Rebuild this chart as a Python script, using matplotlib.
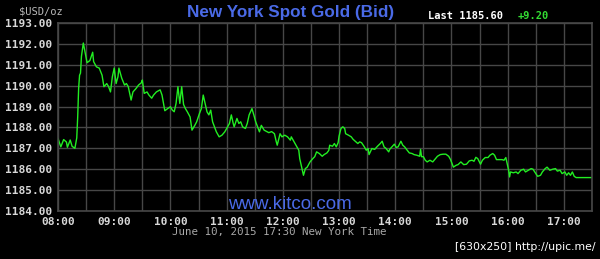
import matplotlib
matplotlib.use("Agg")
import matplotlib.pyplot as plt
import numpy as np

# minutes after 08:00 (New York time) and bid price in USD/oz
minutes = [
    0, 3, 6, 9, 10, 13, 15, 18, 20, 21, 22, 23, 24, 25, 27, 29, 31, 34, 37, 38,
    41, 44, 47, 49, 52, 54, 56, 58, 60, 62, 64, 65, 68, 71, 73, 75, 78, 80, 83, 86,
    89, 90, 92, 95, 97, 100, 102, 105, 109, 111, 114, 117, 120, 122, 124, 126, 128, 130, 132, 134,
    136, 138, 141, 143, 146, 148, 151, 153, 155, 157, 159, 161, 163, 165, 167, 169, 172, 175, 178, 180,
    183, 185, 187, 188, 191, 193, 195, 197, 200, 202, 204, 207, 209, 211, 213, 215, 217, 220, 225, 228,
    231, 233, 234, 237, 239, 242, 245, 248, 249, 252, 255, 257, 258, 260, 262, 264, 266, 269, 272, 274,
    276, 279, 282, 284, 287, 289, 290, 293, 295, 297, 299, 300, 302, 304, 306, 307, 310, 313, 315, 318,
    320, 322, 324, 327, 329, 331, 332, 335, 338, 341, 344, 346, 348, 350, 353, 354, 357, 359, 361, 363,
    366, 368, 370, 372, 375, 378, 380, 383, 386, 387, 388, 390, 392, 394, 397, 400, 402, 405, 408, 411,
    414, 417, 419, 422, 425, 427, 430, 433, 436, 439, 442, 444, 446, 448, 451, 453, 456, 459, 461, 464,
    466, 468, 471, 474, 476, 478, 479, 481, 482, 483, 486, 489, 491, 494, 497, 499, 502, 505, 507, 510,
    512, 515, 517, 520, 522, 525, 528, 531, 533, 536, 538, 541, 543, 545, 547, 549, 551, 553, 570,
]
prices = [
    1187.47, 1187.07, 1187.42, 1187.30, 1187.05, 1187.40, 1187.10, 1187.00, 1187.50, 1188.50,
    1189.87, 1190.50, 1190.60, 1191.40, 1192.04, 1191.56, 1191.10, 1191.20, 1191.60, 1191.15,
    1190.90, 1190.84, 1190.50, 1189.95, 1190.10, 1189.95, 1189.70, 1190.43, 1190.84, 1190.10,
    1190.43, 1190.84, 1190.36, 1190.03, 1190.10, 1189.95, 1189.31, 1189.70, 1189.85, 1190.03,
    1190.14, 1190.27, 1189.63, 1189.70, 1189.55, 1189.40, 1189.55, 1189.70, 1189.80, 1189.55,
    1188.80, 1188.90, 1188.99, 1188.83, 1188.75, 1189.15, 1189.95, 1189.15, 1189.95, 1189.10,
    1188.90, 1188.75, 1188.50, 1187.87, 1188.10, 1188.27, 1188.67, 1188.90, 1189.55, 1189.15,
    1188.75, 1188.60, 1188.83, 1188.27, 1188.03, 1187.79, 1187.55, 1187.63, 1187.79, 1187.95,
    1188.19, 1188.60, 1188.19, 1188.03, 1188.43, 1188.19, 1188.27, 1188.03, 1187.95, 1188.19,
    1188.60, 1188.90, 1188.60, 1188.27, 1188.03, 1187.79, 1188.10, 1187.87, 1187.75, 1187.80,
    1187.70, 1187.31, 1187.15, 1187.70, 1187.55, 1187.63, 1187.55, 1187.39, 1187.55, 1187.31,
    1187.07, 1186.91, 1186.51, 1186.10, 1185.71, 1186.03, 1186.10, 1186.35, 1186.51, 1186.60,
    1186.83, 1186.75, 1186.62, 1186.70, 1186.78, 1186.90, 1187.15, 1187.10, 1187.23, 1187.07,
    1187.27, 1187.58, 1187.95, 1188.03, 1187.95, 1187.70, 1187.63, 1187.55, 1187.43, 1187.31,
    1187.23, 1187.31, 1187.27, 1187.07, 1186.91, 1186.99, 1186.70, 1186.99, 1186.95, 1187.10,
    1187.23, 1187.34, 1187.07, 1187.00, 1186.83, 1186.95, 1187.10, 1187.20, 1187.04, 1187.07,
    1187.34, 1187.15, 1187.07, 1186.95, 1186.78, 1186.75, 1186.70, 1186.67, 1186.62, 1186.95,
    1186.60, 1186.60, 1186.43, 1186.35, 1186.43, 1186.35, 1186.46, 1186.62, 1186.70, 1186.72,
    1186.72, 1186.62, 1186.46, 1186.10, 1186.19, 1186.22, 1186.35, 1186.22, 1186.24, 1186.40,
    1186.43, 1186.38, 1186.57, 1186.51, 1186.24, 1186.43, 1186.56, 1186.56, 1186.67, 1186.75,
    1186.67, 1186.46, 1186.46, 1186.46, 1186.43, 1186.56, 1186.35, 1185.95, 1185.63, 1185.87,
    1185.83, 1185.87, 1185.79, 1185.95, 1186.00, 1185.87, 1185.95, 1186.03, 1186.00, 1185.79,
    1185.66, 1185.71, 1185.87, 1186.03, 1186.10, 1185.95, 1186.00, 1186.03, 1185.91, 1185.95,
    1185.79, 1185.87, 1185.71, 1185.83, 1185.71, 1185.87, 1185.66, 1185.60, 1185.60,
]

y_ticks = [1184, 1185, 1186, 1187, 1188, 1189, 1190, 1191, 1192, 1193]
hour_labels = ["08:00", "09:00", "10:00", "11:00", "12:00",
               "13:00", "14:00", "15:00", "16:00", "17:00"]
last_price = "1185.60"
change = "+9.20"

mono = "DejaVu Sans Mono"
grid_col = "#474747"
label_col = "#d8d8d8"
blue = "#4a6ae6"

fig = plt.figure(figsize=(6.0, 2.59), dpi=100, facecolor="black")
ax = fig.add_axes([0.0967, 0.1853, 0.89, 0.726], facecolor="black")

ax.plot(minutes, prices, color="#22ee22", linewidth=1.0)

ax.set_xlim(0, 570)
ax.set_ylim(y_ticks[0], y_ticks[-1])
ax.set_yticks(y_ticks)
ax.set_yticklabels([f"{v:.2f}" for v in y_ticks])
ax.set_xticks(np.arange(len(hour_labels)) * 60)
ax.set_xticklabels(hour_labels)
ax.set_xticks(np.arange(0, 571, 30), minor=True)
ax.grid(True, which="both", color=grid_col, linewidth=1.0)
ax.set_axisbelow(True)
ax.tick_params(which="both", length=0)
ax.tick_params(axis="x", pad=4.5)
ax.tick_params(axis="y", pad=4)
for lab in ax.get_xticklabels() + ax.get_yticklabels():
    lab.set_fontfamily(mono)
    lab.set_fontweight("bold")
    lab.set_fontsize(8)
    lab.set_color(label_col)
for spine in ax.spines.values():
    spine.set_color(grid_col)
    spine.set_linewidth(1.2)

fig.text(0.032, 0.955, "$USD/oz", family=mono, fontsize=7.5, color="#b8b8b8",
         ha="left", va="center")
fig.text(0.485, 0.952, "New York Spot Gold (Bid)", family="Liberation Sans",
         fontweight="bold", fontsize=12.3, color=blue, ha="center", va="center")
fig.text(0.714, 0.94, f"Last {last_price}", family=mono, fontweight="bold",
         fontsize=7.5, color="white", ha="left", va="center")
fig.text(0.863, 0.94, change, family=mono, fontweight="bold",
         fontsize=7.5, color="#33dd33", ha="left", va="center")
fig.text(0.484, 0.212, "www.kitco.com", family="Liberation Sans",
         fontsize=13.5, color=blue, ha="center", va="center", zorder=5)
fig.text(0.286, 0.103, "June 10, 2015 17:30 New York Time", family=mono,
         fontsize=7.8, color="#a8a8a8", ha="left", va="center")
fig.text(0.992, 0.046, "[630x250] http://upic.me/", family="DejaVu Sans",
         fontsize=7.8, color="white", ha="right", va="center")

fig.savefig("out.png", dpi=100, facecolor="black")
